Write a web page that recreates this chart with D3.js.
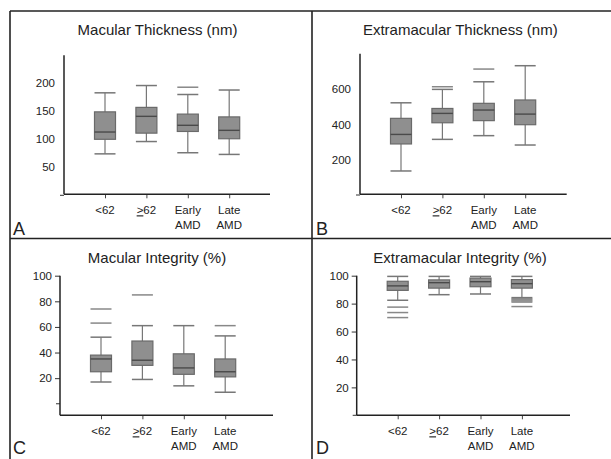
<!DOCTYPE html>
<html lang="en">
<head>
    <meta charset="UTF-8">
    <title>Box plots</title>
    <script src="https://cdn.jsdelivr.net/npm/d3@7"></script>
    <style>
        body { margin: 0; background: #fff; }
        text { font-family: "Liberation Sans", Arial, sans-serif; fill: #222; }
    </style>
</head>
<body>
    <script>
        // categories (second line of label after the |)
        var categories = ['<62', '>62', 'Early|AMD', 'Late|AMD'];

        // A: macular thickness
        var aHigh = [183, 196, 180, 188];
        var aQ3 = [149, 157, 145, 140];
        var aMed = [113, 141, 125, 116];
        var aQ1 = [100, 111, 114, 101];
        var aLow = [74, 96, 76, 73];
        var aOut = [[], [], [193], []];
        var aTicks = [200, 150, 100, 50];

        // B: extramacular thickness
        var bHigh = [522, 598, 641, 732];
        var bQ3 = [434, 490, 519, 538];
        var bMed = [343, 462, 481, 458];
        var bQ1 = [289, 409, 421, 398];
        var bLow = [136, 315, 336, 283];
        var bOut = [[], [613], [713], []];
        var bTicks = [600, 400, 200];

        // C: macular integrity
        var cHigh = [52, 61, 61, 53];
        var cQ3 = [38, 49, 39, 35];
        var cMed = [35, 34, 28, 25];
        var cQ1 = [25, 30, 23, 21];
        var cLow = [17, 19, 14, 9];
        var cOut = [[63, 74], [85], [], [61]];
        var cTicks = [100, 80, 60, 40, 20];

        // D: extramacular integrity
        var dHigh = [99.5, 99.5, 99.5, 99.5];
        var dQ3 = [96, 97, 98.3, 97.2];
        var dMed = [92.7, 95, 95.7, 94.3];
        var dQ1 = [89.5, 91.1, 92.1, 91.1];
        var dLow = [82.4, 86.4, 86.9, 84.3];
        var dOut = [[77.5, 73.6, 70], [], [], [83.5, 82.7, 81.9, 81.1, 77.9]];
        var dTicks = [100, 80, 60, 40, 20];

        var w = 611;
        var h = 459;

        var svg = d3.select('body')
                    .append('svg')
                    .attr('width', w)
                    .attr('height', h);

        // panel frame
        var frame = [
            [10, 11, 611, 11],
            [10, 238.5, 611, 238.5],
            [10, 11, 10, 459],
            [312, 11, 312, 459]
        ];
        svg.selectAll('line.frame')
            .data(frame)
            .enter()
            .append('line')
            .attr('x1', function(d) { return d[0]; })
            .attr('y1', function(d) { return d[1]; })
            .attr('x2', function(d) { return d[2]; })
            .attr('y2', function(d) { return d[3]; })
            .attr('stroke', '#222')
            .attr('stroke-width', 1.6);

        function drawPanel(p) {
            var g = svg.append('g');
            var y = d3.scaleLinear().domain(p.domain).range([p.yBottom, p.yTop]);
            var x = d3.scalePoint().domain(categories).range([p.xAxis + 41, p.xAxis + 41 + 3 * 41.4]);

            var rows = categories.map(function(c, i) {
                return {cat: c, high: p.high[i], q3: p.q3[i], med: p.med[i], q1: p.q1[i], low: p.low[i], out: p.out[i]};
            });

            // y axis
            var yAxis = d3.axisLeft(y)
                .tickValues(p.ticks)
                .tickSize(p.tickLen)
                .tickPadding(p.tickLen > 0 ? 3 : 9)
                .tickFormat(d3.format('d'));
            var ya = g.append('g')
                .attr('transform', 'translate(' + p.xAxis + ',0)')
                .call(yAxis);
            ya.select('.domain').remove();
            ya.selectAll('line').attr('stroke', '#333');
            ya.selectAll('text').attr('font-size', '11.5px').attr('fill', '#222');
            // unlabeled zero tick
            g.append('line')
                .attr('x1', p.xAxis - 4).attr('x2', p.xAxis)
                .attr('y1', y(0)).attr('y2', y(0))
                .attr('stroke', '#333');
            g.append('line')
                .attr('x1', p.xAxis).attr('x2', p.xAxis)
                .attr('y1', p.yTop).attr('y2', p.xAxisY)
                .attr('stroke', '#222').attr('stroke-width', 1.5);

            // x axis
            var xAxis = d3.axisBottom(x).tickSize(4).tickFormat('');
            var xa = g.append('g')
                .attr('transform', 'translate(0,' + p.xAxisY + ')')
                .call(xAxis);
            xa.select('.domain').remove();
            xa.selectAll('line').attr('stroke', '#444');
            g.append('line')
                .attr('x1', p.xAxis).attr('x2', p.xEnd)
                .attr('y1', p.xAxisY).attr('y2', p.xAxisY)
                .attr('stroke', '#222').attr('stroke-width', 1.5);

            // category labels
            var lab = g.selectAll('text.cat')
                .data(categories)
                .enter()
                .append('text')
                .attr('class', 'cat')
                .attr('text-anchor', 'middle')
                .attr('font-size', '11.5px');
            lab.each(function(d) {
                var parts = d.split('|');
                var t = d3.select(this);
                parts.forEach(function(s, k) {
                    var ts = t.append('tspan')
                        .attr('x', x(d))
                        .attr('y', p.xAxisY + 20 + k * 14.5);
                    if (s === '>62') {
                        ts.append('tspan').text('>').style('text-decoration', 'underline');
                        ts.append('tspan').text('62');
                    } else {
                        ts.text(s);
                    }
                });
            });

            var bw = 21;
            var bx = g.selectAll('g.box')
                .data(rows)
                .enter()
                .append('g')
                .attr('class', 'box');

            // whiskers
            bx.append('line')
                .attr('x1', function(d) { return x(d.cat); })
                .attr('x2', function(d) { return x(d.cat); })
                .attr('y1', function(d) { return y(d.high); })
                .attr('y2', function(d) { return y(d.low); })
                .attr('stroke', '#777').attr('stroke-width', 1.2);
            ['high', 'low'].forEach(function(k) {
                bx.append('line')
                    .attr('x1', function(d) { return x(d.cat) - bw / 2; })
                    .attr('x2', function(d) { return x(d.cat) + bw / 2; })
                    .attr('y1', function(d) { return y(d[k]); })
                    .attr('y2', function(d) { return y(d[k]); })
                    .attr('stroke', '#777').attr('stroke-width', 1.5);
            });

            // boxes
            bx.append('rect')
                .attr('x', function(d) { return x(d.cat) - bw / 2; })
                .attr('y', function(d) { return y(d.q3); })
                .attr('width', bw)
                .attr('height', function(d) { return y(d.q1) - y(d.q3); })
                .attr('fill', '#8f8f8f')
                .attr('stroke', '#6a6a6a')
                .attr('stroke-width', 1.2);
            bx.append('line')
                .attr('x1', function(d) { return x(d.cat) - bw / 2; })
                .attr('x2', function(d) { return x(d.cat) + bw / 2; })
                .attr('y1', function(d) { return y(d.med); })
                .attr('y2', function(d) { return y(d.med); })
                .attr('stroke', '#4a4a4a').attr('stroke-width', 1.4);

            // outliers as short lines
            bx.each(function(d) {
                d3.select(this).selectAll('line.out')
                    .data(d.out)
                    .enter()
                    .append('line')
                    .attr('class', 'out')
                    .attr('x1', x(d.cat) - bw / 2)
                    .attr('x2', x(d.cat) + bw / 2)
                    .attr('y1', function(v) { return y(v); })
                    .attr('y2', function(v) { return y(v); })
                    .attr('stroke', '#888').attr('stroke-width', 1.5);
            });

            // title
            g.append('text')
                .attr('x', p.titleX)
                .attr('y', p.titleY)
                .attr('text-anchor', 'middle')
                .attr('font-size', '15px')
                .text(p.title);

            // panel letter
            g.append('text')
                .attr('x', p.letterX)
                .attr('y', p.letterY)
                .attr('font-size', '18px')
                .text(p.letter);
        }

        drawPanel({
            title: 'Macular Thickness (nm)', letter: 'A',
            high: aHigh, q3: aQ3, med: aMed, q1: aQ1, low: aLow, out: aOut, ticks: aTicks,
            domain: [0, 250], yBottom: 195.3, yTop: 55.3,
            xAxis: 64, xEnd: 270, xAxisY: 194.3, tickLen: 0,
            titleX: 157.5, titleY: 35, letterX: 13, letterY: 235
        });
        drawPanel({
            title: 'Extramacular Thickness (nm)', letter: 'B',
            high: bHigh, q3: bQ3, med: bMed, q1: bQ1, low: bLow, out: bOut, ticks: bTicks,
            domain: [0, 800], yBottom: 195, yTop: 53.7,
            xAxis: 360, xEnd: 566.7, xAxisY: 194.3, tickLen: 0,
            titleX: 460.3, titleY: 35, letterX: 316, letterY: 235
        });
        drawPanel({
            title: 'Macular Integrity (%)', letter: 'C',
            high: cHigh, q3: cQ3, med: cMed, q1: cQ1, low: cLow, out: cOut, ticks: cTicks,
            domain: [-9, 100], yBottom: 415.3, yTop: 275.7,
            xAxis: 60, xEnd: 273, xAxisY: 415.3, tickLen: 5,
            titleX: 157, titleY: 263, letterX: 13, letterY: 454
        });
        drawPanel({
            title: 'Extramacular Integrity (%)', letter: 'D',
            high: dHigh, q3: dQ3, med: dMed, q1: dQ1, low: dLow, out: dOut, ticks: dTicks,
            domain: [0, 100], yBottom: 415.3, yTop: 275.7,
            xAxis: 356.7, xEnd: 570, xAxisY: 415.3, tickLen: 5,
            titleX: 460, titleY: 263, letterX: 316, letterY: 454
        });
    </script>
</body>
</html>
